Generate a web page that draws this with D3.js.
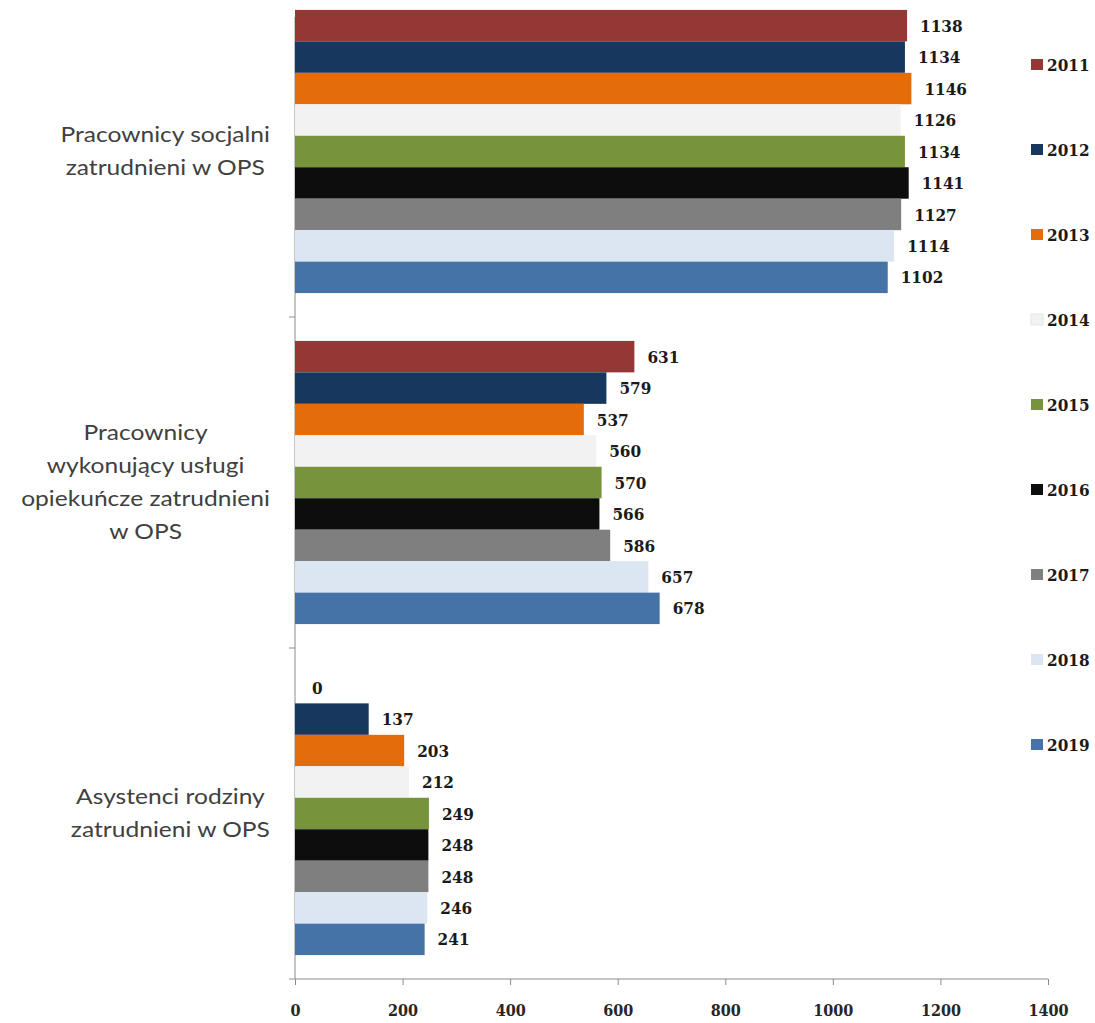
<!DOCTYPE html>
<html>
<head>
<meta charset="utf-8">
<script src="https://cdn.jsdelivr.net/npm/d3@7"></script>
<style>
  body { margin: 0; background: #fff; }
  .num { font-family: "DejaVu Serif", serif; font-stretch: condensed; font-weight: bold; font-size: 17px; fill: #1a1a1a; }
  .tick text.num { font-size: 16px; fill: #262626; }
  .cat { font-family: Lato, "Open Sans", sans-serif; font-size: 21px; fill: #404040; }
</style>
</head>
<body>
<script>
// data
const categories = [
  ["Pracownicy socjalni", "zatrudnieni w OPS"],
  ["Pracownicy", "wykonujący usługi", "opiekuńcze zatrudnieni", "w OPS"],
  ["Asystenci rodziny", "zatrudnieni w OPS"]
];
const years = ["2011", "2012", "2013", "2014", "2015", "2016", "2017", "2018", "2019"];
const socjalni = [1138, 1134, 1146, 1126, 1134, 1141, 1127, 1114, 1102];
const opiekuncze = [631, 579, 537, 560, 570, 566, 586, 657, 678];
const asystenci = [0, 137, 203, 212, 249, 248, 248, 246, 241];
const xTicks = [0, 200, 400, 600, 800, 1000, 1200, 1400];
const colors = ["#953735", "#17375E", "#E46C0A", "#F2F2F2", "#77933C", "#0D0D0D", "#7F7F7F", "#DCE6F2", "#4572A7"];

const seriesByCat = [socjalni, opiekuncze, asystenci];

let svg = null;
let x, y, yInner;
const W = 1095, H = 1023;
const plotLeft = 295, plotRight = 1048, plotTop = -14, plotBottom = 979;

appendSvg();
setupScales();
appendAxes();
appendBars();
appendCategoryLabels();
appendLegend();

function appendSvg() {
  svg = d3.select("body").append("svg")
    .attr("width", W)
    .attr("height", H);
}

function setupScales() {
  x = d3.scaleLinear().domain([0, 1400]).range([plotLeft, plotRight]);
  y = d3.scaleBand().domain(d3.range(categories.length)).range([plotTop, plotBottom])
    .paddingInner(0).paddingOuter(0);
  // bars touch each other, gap at both ends of a category
  yInner = d3.scaleBand().domain(years).range([0, y.bandwidth()])
    .paddingInner(0).paddingOuter(0.76);
}

function appendAxes() {
  const axisColor = "#8c8c8c";
  const gx = svg.append("g")
    .attr("transform", `translate(0, ${plotBottom})`)
    .call(d3.axisBottom(x).tickValues(xTicks).tickSize(6).tickPadding(20).tickFormat(d3.format("d")));
  gx.select(".domain").attr("stroke", axisColor).attr("d", `M${plotLeft},0H${plotRight}`);
  gx.selectAll(".tick line").attr("stroke", axisColor);
  gx.selectAll(".tick text").attr("class", "num");
  gx.attr("font-size", null).attr("font-family", null);

  // y axis line + ticks between categories
  svg.append("line")
    .attr("x1", plotLeft).attr("x2", plotLeft)
    .attr("y1", 17).attr("y2", plotBottom)
    .attr("stroke", axisColor);
  svg.selectAll(".ytick")
    .data(d3.range(1, categories.length + 1))
    .join("line")
    .attr("class", "ytick")
    .attr("x1", plotLeft - 6).attr("x2", plotLeft)
    .attr("y1", d => plotTop + d * y.step())
    .attr("y2", d => plotTop + d * y.step())
    .attr("stroke", axisColor);
}

function appendBars() {
  const groups = svg.selectAll(".grp")
    .data(seriesByCat)
    .join("g")
    .attr("class", "grp")
    .attr("transform", (d, i) => `translate(0, ${y(i)})`);

  groups.selectAll("rect")
    .data(d => d.map((v, i) => ({ v, year: years[i], i })))
    .join("rect")
    .attr("x", x(0))
    .attr("y", d => yInner(d.year))
    .attr("width", d => x(d.v) - x(0))
    .attr("height", yInner.bandwidth())
    .attr("fill", d => colors[d.i]);

  groups.selectAll("text")
    .data(d => d.map((v, i) => ({ v, year: years[i], i })))
    .join("text")
    .attr("class", "num")
    .attr("x", d => x(d.v) + (d.v === 0 ? 17 : 13))
    .attr("y", d => yInner(d.year) + yInner.bandwidth() / 2)
    .attr("dy", "0.36em")
    .text(d => d.v);
}

function appendCategoryLabels() {
  const rightEdge = 270;
  const lineH = 33;
  const stretch = 1.17; // the picture's labels are wider than Lato
  categories.forEach((lines, i) => {
    const g = svg.append("g");
    const cy = y(i) + y.bandwidth() / 2;
    const texts = g.selectAll("text")
      .data(lines)
      .join("text")
      .attr("class", "cat")
      .attr("text-anchor", "middle")
      .attr("dy", "0.35em")
      .text(d => d);
    let maxW = 0;
    texts.each(function () { maxW = Math.max(maxW, this.getComputedTextLength()); });
    const cx = rightEdge - maxW * stretch / 2;
    texts.attr("transform", (d, j) =>
      `translate(${cx}, ${cy + (j - (lines.length - 1) / 2) * lineH}) scale(${stretch}, 1)`);
  });
}

function appendLegend() {
  const lg = svg.selectAll(".leg")
    .data(years)
    .join("g")
    .attr("class", "leg")
    .attr("transform", (d, i) => `translate(1031, ${65 + i * 85})`);
  lg.append("rect")
    .attr("x", 0).attr("y", -6)
    .attr("width", 12).attr("height", 11)
    .attr("fill", (d, i) => colors[i])
    .attr("stroke", (d, i) => i === 3 ? "#e6e6e6" : "none");
  lg.append("text")
    .attr("class", "num")
    .attr("x", 16)
    .attr("dy", "0.36em")
    .text(d => d);
}
</script>
</body>
</html>
